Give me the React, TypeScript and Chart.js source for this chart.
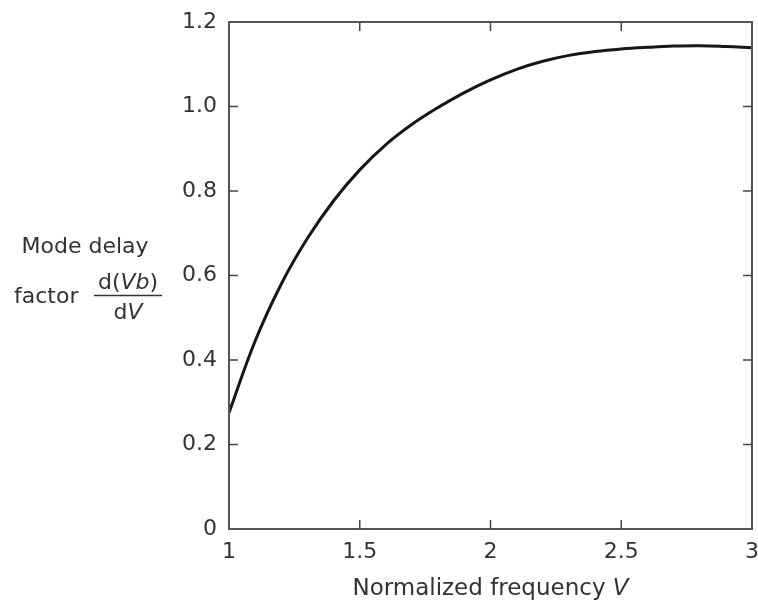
import React, { useEffect, useRef } from "react";
import { Chart, registerables } from "chart.js";

Chart.register(...registerables);

// Normalized frequency V
const vValues = [1.0, 1.1, 1.2, 1.3, 1.4, 1.5, 1.6, 1.7, 1.8, 1.9, 2.0, 2.1, 2.2, 2.3, 2.4, 2.5, 2.6, 2.7, 2.8, 2.9, 3.0];
// Mode delay factor d(Vb)/dV
const delayFactor = [0.275, 0.445, 0.58, 0.688, 0.777, 0.85, 0.91, 0.958, 0.998, 1.033, 1.063, 1.088, 1.107, 1.121, 1.13, 1.136, 1.14, 1.143, 1.144, 1.142, 1.139];

const xTicks = [1, 1.5, 2, 2.5, 3];
const yTicks = [0, 0.2, 0.4, 0.6, 0.8, 1.0, 1.2];

const FONT = '"DejaVu Sans", Verdana, sans-serif';
const TEXT = "#333333";

const framePlugin = {
  id: "frameTicks",
  afterDraw(chart: any) {
    const { ctx, chartArea: a, scales } = chart;
    ctx.save();
    ctx.strokeStyle = "#555";
    ctx.lineWidth = 2;
    ctx.strokeRect(a.left, a.top, a.right - a.left, a.bottom - a.top);
    const L = 9;
    ctx.lineWidth = 1.5;
    ctx.strokeStyle = "#444";
    const line = (x1: number, y1: number, x2: number, y2: number) => {
      ctx.beginPath();
      ctx.moveTo(x1, y1);
      ctx.lineTo(x2, y2);
      ctx.stroke();
    };
    scales.x.ticks.forEach((t: any) => {
      const px = scales.x.getPixelForValue(t.value);
      if (px <= a.left + 1 || px >= a.right - 1) return;
      line(px, a.bottom, px, a.bottom - L);
      line(px, a.top, px, a.top + L);
    });
    scales.y.ticks.forEach((t: any) => {
      const py = scales.y.getPixelForValue(t.value);
      if (py <= a.top + 1 || py >= a.bottom - 1) return;
      line(a.left, py, a.left + L, py);
      line(a.right, py, a.right - L, py);
    });

    // Axis titles
    ctx.fillStyle = TEXT;
    ctx.textBaseline = "alphabetic";
    const reg = `22px ${FONT}`;
    const ita = `italic 22px ${FONT}`;
    const drawRuns = (runs: [string, string][], cx: number, y: number) => {
      let w = 0;
      runs.forEach(([s, f]) => {
        ctx.font = f;
        w += ctx.measureText(s).width;
      });
      let x = cx - w / 2;
      ctx.textAlign = "left";
      runs.forEach(([s, f]) => {
        ctx.font = f;
        ctx.fillText(s, x, y);
        x += ctx.measureText(s).width;
      });
      return w;
    };
    // X title
    drawRuns(
      [["Normalized frequency ", `23px ${FONT}`], ["V", `italic 23px ${FONT}`]],
      (a.left + a.right) / 2,
      595
    );

    // Y title
    ctx.font = reg;
    ctx.textAlign = "center";
    ctx.fillText("Mode delay", 85, 253);
    ctx.textAlign = "left";
    ctx.fillText("factor", 14, 303);
    const fx = 128;
    drawRuns([["d(", reg], ["Vb", ita], [")", reg]], fx, 289);
    drawRuns([["d", reg], ["V", ita]], fx, 319);
    ctx.strokeStyle = "#333";
    ctx.lineWidth = 1.5;
    line(94, 295.5, 162, 295.5);
    ctx.restore();
  },
};

export default function App() {
  const ref = useRef<HTMLCanvasElement | null>(null);
  useEffect(() => {
    document.body.style.margin = "0";
    const canvas = ref.current;
    if (!canvas) return;
    const chart = new Chart(canvas, {
      type: "line",
      data: {
        datasets: [
          {
            data: vValues.map((v, i) => ({ x: v, y: delayFactor[i] })),
            borderColor: "#161616",
            borderWidth: 3,
            pointRadius: 0,
            tension: 0.4,
            fill: false,
          },
        ],
      },
      options: {
        animation: false,
        responsive: false,
        maintainAspectRatio: false,
        layout: { padding: { left: 0, right: 6, top: 22, bottom: 0 } },
        plugins: { legend: { display: false }, tooltip: { enabled: false } },
        scales: {
          x: {
            type: "linear",
            min: 1,
            max: 3,
            afterBuildTicks: (s: any) => {
              s.ticks = xTicks.map((v) => ({ value: v }));
            },
            afterFit: (s: any) => {
              s.height = 72;
              s.paddingLeft = 0;
              s.paddingRight = 0;
            },
            grid: { display: false, drawTicks: false },
            border: { display: false },
            ticks: {
              padding: 10,
              color: TEXT,
              font: { family: FONT, size: 22 },
              maxRotation: 0,
              autoSkip: false,
              callback: (v: any) => String(v),
            },
          },
          y: {
            type: "linear",
            min: 0,
            max: 1.2,
            afterBuildTicks: (s: any) => {
              s.ticks = yTicks.map((v) => ({ value: v }));
            },
            afterFit: (s: any) => {
              s.width = 229;
              s.paddingTop = 0;
              s.paddingBottom = 0;
            },
            grid: { display: false, drawTicks: false },
            border: { display: false },
            ticks: {
              padding: 12,
              color: TEXT,
              font: { family: FONT, size: 22 },
              autoSkip: false,
              callback: (v: any) => (Number(v) === 0 ? "0" : Number(v).toFixed(1)),
            },
          },
        },
      },
      plugins: [framePlugin],
    });
    return () => chart.destroy();
  }, []);
  return (
    <div style={{ width: 758, height: 601, background: "#fff" }}>
      <canvas ref={ref} width={758} height={601} style={{ width: 758, height: 601, display: "block" }} />
    </div>
  );
}
